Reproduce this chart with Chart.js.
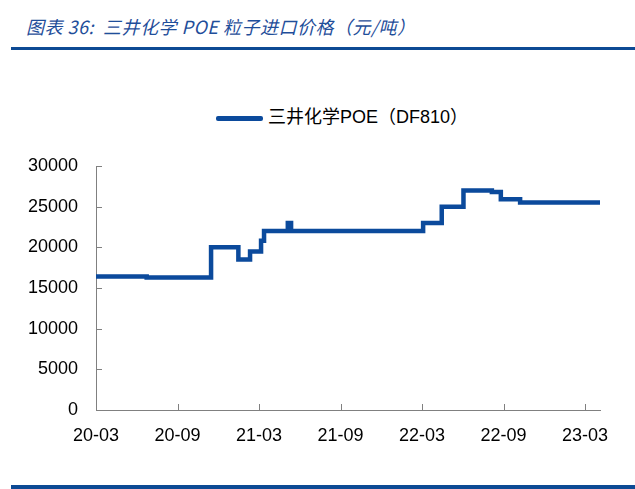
<!DOCTYPE html>
<html>
<head>
<meta charset="utf-8">
<script src="https://cdn.jsdelivr.net/npm/chart.js@4"></script>
<style>
  body { margin: 0; background: #fff; }
  #wrap { position: relative; width: 635px; height: 489px; overflow: hidden; }
  #title { position: absolute; left: 26px; top: 13px; font: italic 18px "Noto Sans CJK SC", "DejaVu Sans", sans-serif; color: #1f4e9a; white-space: nowrap; letter-spacing: 0.5px; }
  .rule { position: absolute; left: 11px; right: 0; height: 3px; background: #0d4a94; }
  #legend { position: absolute; left: 216px; top: 102px; font: 18px "Liberation Sans", "Noto Sans CJK SC", sans-serif; color: #000; white-space: nowrap; }
  #legend span.sw { display: inline-block; width: 47px; height: 5px; background: #0b4a9c; vertical-align: middle; margin-right: 5px; border-radius: 2px; }
  canvas { position: absolute; left: 0; top: 0; }
</style>
</head>
<body>
<div id="wrap">
  <div id="title">图表 36:&nbsp; 三井化学 POE 粒子进口价格（元/吨）</div>
  <div class="rule" style="top:47px"></div>
  <div id="legend"><span class="sw"></span>三井化学POE（DF810）</div>
  <div class="rule" style="top:485px;height:4px"></div>
  <canvas id="lineChart" width="635" height="489"></canvas>
</div>
<script>
// months counted from 2020-03 (0) ; each value holds until the next point
var months = [0, 3.73, 8.47, 10.48, 11.34, 12.15, 12.37, 14.12, 14.36, 24.08, 25.45, 27.05, 29.14, 29.8, 31.22, 37.2];
var prices = [16400, 16300, 20000, 18500, 19500, 20800, 22000, 23000, 22000, 23000, 25000, 27000, 26800, 25900, 25500, 25500];
var tickMonths = [0, 6, 12, 18, 24, 30, 36];
var tickLabels = ['20-03', '20-09', '21-03', '21-09', '22-03', '22-09', '23-03'];
var yTicks = [0, 5000, 10000, 15000, 20000, 25000, 30000];

var points = [];
for (var i = 0; i < months.length; i++) {
    points.push({ x: months[i], y: prices[i] });
}

// tick marks drawn inside the plot, like the source chart
var innerTicks = {
    id: 'innerTicks',
    afterDraw: function(chart) {
        var ctx = chart.ctx;
        var xs = chart.scales.x, ys = chart.scales.y;
        ctx.save();
        ctx.strokeStyle = '#808080';
        ctx.lineWidth = 1;
        ctx.beginPath();
        tickMonths.forEach(function(m) {
            var px = Math.round(xs.getPixelForValue(m)) + 0.5;
            ctx.moveTo(px, ys.bottom);
            ctx.lineTo(px, ys.bottom - 6);
        });
        yTicks.forEach(function(v) {
            var py = Math.round(ys.getPixelForValue(v)) + 0.5;
            ctx.moveTo(xs.left, py);
            ctx.lineTo(xs.left + 6, py);
        });
        ctx.stroke();
        ctx.restore();
    }
};

var ctx = document.getElementById('lineChart').getContext('2d');
var lineChart = new Chart(ctx, {
    type: 'line',
    data: {
        datasets: [{
            label: '三井化学POE（DF810）',
            data: points,
            borderColor: '#0b4a9c',
            borderWidth: 4.5,
            stepped: true,
            pointRadius: 0,
            fill: false
        }]
    },
    options: {
        responsive: false,
        animation: false,
        layout: { padding: { left: 0, top: 166, right: 35, bottom: 0 } },
        plugins: { legend: { display: false }, tooltip: { enabled: false } },
        scales: {
            x: {
                type: 'linear',
                min: 0,
                max: 37.1,
                afterBuildTicks: function(scale) {
                    scale.ticks = tickMonths.map(function(m) { return { value: m }; });
                },
                afterFit: function(scale) { scale.height = 79; },
                grid: { display: false, drawTicks: false },
                border: { display: true, color: '#808080', width: 1 },
                ticks: {
                    padding: 15,
                    maxRotation: 0,
                    autoSkip: false,
                    color: '#000',
                    font: { family: 'Liberation Sans', size: 18 },
                    callback: function(v) {
                        var k = tickMonths.indexOf(v);
                        return k >= 0 ? tickLabels[k] : '';
                    }
                }
            },
            y: {
                min: 0,
                max: 30000,
                afterBuildTicks: function(scale) {
                    scale.ticks = yTicks.map(function(v) { return { value: v }; });
                },
                afterFit: function(scale) { scale.width = 96; },
                grid: { display: false, drawTicks: false },
                border: { display: true, color: '#808080', width: 1 },
                ticks: {
                    padding: 18,
                    color: '#000',
                    font: { family: 'Liberation Sans', size: 18 },
                    callback: function(v) { return String(v); }
                }
            }
        }
    },
    plugins: [innerTicks]
});
</script>
</body>
</html>
